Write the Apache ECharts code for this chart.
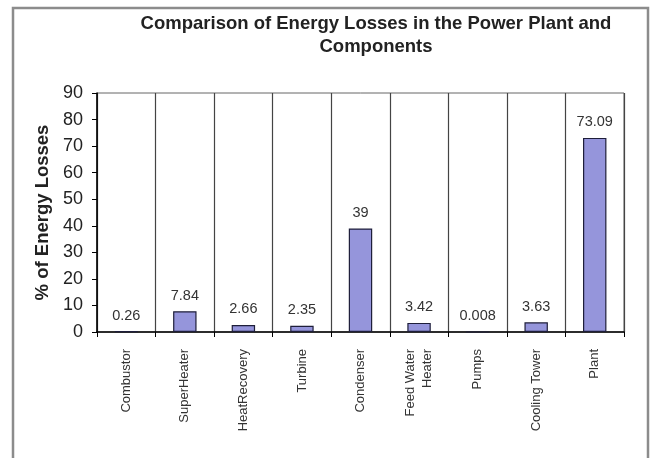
<!DOCTYPE html>
<html>
<head>
<meta charset="utf-8">
<script src="https://cdn.jsdelivr.net/npm/echarts@6/dist/echarts.min.js"></script>
<style>
html,body{margin:0;padding:0;background:#fff;}
#chart{width:651px;height:458px;}
</style>
</head>
<body>
<div id="chart"></div>
<script>
const titleText = "Comparison of Energy Losses in the Power Plant and\nComponents";
const yAxisName = "% of Energy Losses";
const categories = ["Combustor", "SuperHeater", "HeatRecovery", "Turbine", "Condenser", "Feed Water\nHeater", "Pumps", "Cooling Tower", "Plant"];
const values = [0.26, 7.84, 2.66, 2.35, 39, 3.42, 0.008, 3.63, 73.09];
const yTicks = [0, 10, 20, 30, 40, 50, 60, 70, 80, 90];

const chart = echarts.init(document.getElementById('chart'), null, {renderer: 'canvas'});
const font = "'Liberation Sans', Arial, sans-serif";
chart.setOption({
  backgroundColor: '#ffffff',
  animation: false,
  graphic: [{
    type: 'rect',
    shape: {x: 13, y: 8, width: 635, height: 480},
    style: {fill: 'none', stroke: '#8c8c8c', lineWidth: 2.5},
    z: 0
  }],
  title: {
    text: titleText,
    left: 371,
    top: 7,
    textAlign: 'center',
    textStyle: {fontFamily: font, fontSize: 18.5, fontWeight: 'bold', color: '#222', lineHeight: 23}
  },
  grid: {
    left: 97, right: 27, top: 93, bottom: 126,
    show: true, borderColor: '#666', borderWidth: 1, backgroundColor: '#fff'
  },
  xAxis: {
    type: 'category',
    data: categories,
    axisLine: {lineStyle: {color: '#000', width: 1.5}},
    axisTick: {show: true, alignWithLabel: false, length: 5, lineStyle: {color: '#000'}},
    splitLine: {show: true, lineStyle: {color: '#444', width: 1.2}},
    axisLabel: {
      rotate: 90, margin: 17, interval: 0,
      fontFamily: font, fontSize: 13, color: '#333', lineHeight: 17
    }
  },
  yAxis: {
    type: 'value',
    min: yTicks[0], max: yTicks[yTicks.length - 1], interval: 10,
    name: yAxisName,
    nameLocation: 'middle',
    nameGap: 45,
    nameTextStyle: {fontFamily: font, fontSize: 18.5, fontWeight: 'bold', color: '#222', padding: [0, 0, 0, 0]},
    axisLine: {show: true, lineStyle: {color: '#000', width: 1.5}},
    axisTick: {show: true, length: 5, lineStyle: {color: '#000'}},
    splitLine: {show: false},
    axisLabel: {fontFamily: font, fontSize: 18, color: '#222', margin: 14}
  },
  series: [{
    type: 'bar',
    data: values,
    barWidth: '40%',
    itemStyle: {color: '#9595db', borderColor: '#1e1e3a', borderWidth: 1.2},
    label: {
      show: true, position: 'top', distance: 8,
      fontFamily: font, fontSize: 14.5, color: '#333'
    }
  }]
});
</script>
</body>
</html>
